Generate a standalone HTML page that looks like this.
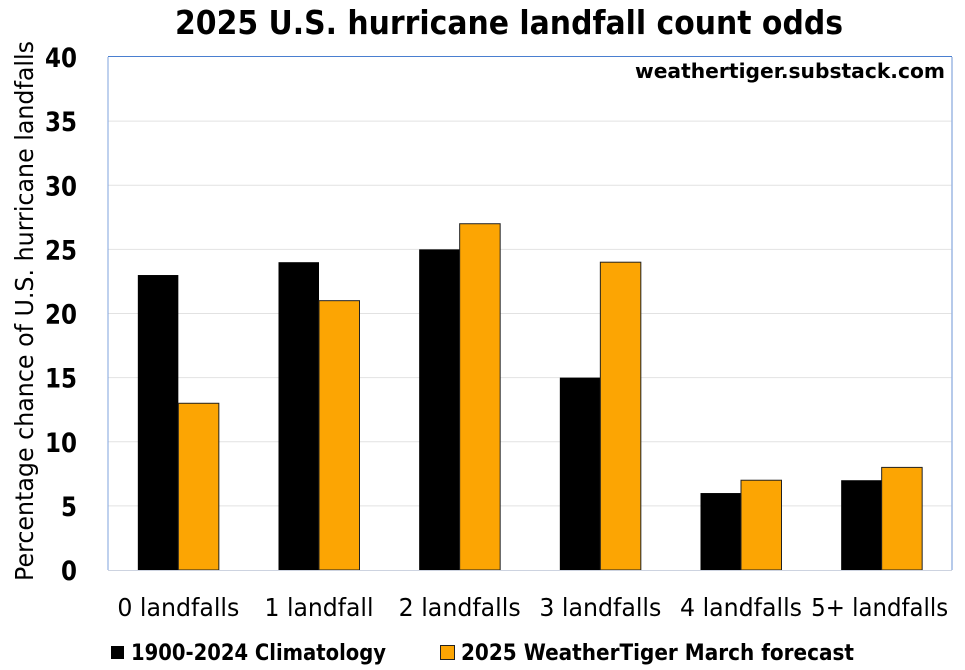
<!DOCTYPE html>
<html lang="en">
<head>
<meta charset="utf-8">
<title>2025 U.S. hurricane landfall count odds</title>
<style>
html,body{margin:0;padding:0;background:#fff;width:965px;height:670px;overflow:hidden}
svg{display:block}
text{font-family:"DejaVu Sans","Liberation Sans",sans-serif;fill:#000}
</style>
</head>
<body>
<svg id="chart" width="965" height="670" viewBox="0 0 965 670" xmlns="http://www.w3.org/2000/svg">
  <text x="509" y="34" text-anchor="middle" font-size="33" font-weight="bold" textLength="668" lengthAdjust="spacingAndGlyphs">2025 U.S. hurricane landfall count odds</text>
  <text transform="translate(33,311) rotate(-90)" text-anchor="middle" font-size="25" textLength="540" lengthAdjust="spacingAndGlyphs">Percentage chance of U.S. hurricane landfalls</text>
  <g id="grid"></g>
  <g id="yticks"></g>
  <g id="bars"></g>
  <g id="xticks"></g>
  <line x1="108" y1="57" x2="108" y2="570" stroke="#7fa3de" stroke-width="1"></line>
  <line x1="952" y1="57" x2="952" y2="570" stroke="#9db8e4" stroke-width="1.5"></line>
  <line x1="108" y1="56.5" x2="952" y2="56.5" stroke="#4a7fd0" stroke-width="1"></line>
  <line x1="108" y1="570.5" x2="952" y2="570.5" stroke="#cdd3e0" stroke-width="1"></line>
  <text x="945" y="78" text-anchor="end" font-size="20" font-weight="bold" textLength="310" lengthAdjust="spacingAndGlyphs">weathertiger.substack.com</text>
  <g>
    <rect x="111" y="646" width="13" height="13" fill="#000"></rect>
    <text x="131" y="660" font-size="22.5" font-weight="bold" textLength="255" lengthAdjust="spacingAndGlyphs">1900-2024 Climatology</text>
    <rect x="440.5" y="645.5" width="14" height="14" fill="#fca503" stroke="#222" stroke-width="1"></rect>
    <text x="461" y="660" font-size="22.5" font-weight="bold" textLength="393" lengthAdjust="spacingAndGlyphs">2025 WeatherTiger March forecast</text>
  </g>
</svg>
<script>
const categories = ["0 landfalls", "1 landfall", "2 landfalls", "3 landfalls", "4 landfalls", "5+ landfalls"];
const climatology = [23, 24, 25, 15, 6, 7];
const forecast = [13, 21, 27, 24, 7, 8];
const yTicks = [0, 5, 10, 15, 20, 25, 30, 35, 40];

const NS = "http://www.w3.org/2000/svg";
const plotLeft = 108, plotRight = 952, plotTop = 57, plotBottom = 570, yMax = 40, barW = 40.5;
function yScale(v) { return plotBottom - (v / yMax) * (plotBottom - plotTop); }
function xCenter(i) { return plotLeft + (i + 0.5) * (plotRight - plotLeft) / categories.length; }
function make(tag, attrs, parent) {
  const el = document.createElementNS(NS, tag);
  for (const k in attrs) el.setAttribute(k, attrs[k]);
  parent.appendChild(el);
  return el;
}
const gGrid = document.getElementById("grid");
const gY = document.getElementById("yticks");
const gBars = document.getElementById("bars");
const gX = document.getElementById("xticks");

yTicks.forEach(function (t) {
  if (t !== 0 && t !== yMax) {
    const ln = make("line", { x1: plotLeft, x2: plotRight, y1: yScale(t), y2: yScale(t), stroke: "#e2e2e2", "stroke-width": 1 }, gGrid);
    
    
  }
  const lab = make("text", { x: 77, y: yScale(t) + 10, "text-anchor": "end", "font-size": 27, "font-weight": "bold" }, gY);
  
  
  lab.setAttribute('textLength', String(t).length * 16);
  lab.setAttribute('lengthAdjust', 'spacingAndGlyphs');
  lab.textContent = t;
});

categories.forEach(function (c, i) {
  const cx = xCenter(i);
  const b1 = make("rect", { x: cx - barW, y: yScale(climatology[i]), width: barW, height: plotBottom - yScale(climatology[i]), fill: "#000" }, gBars);
  
  
  const b2 = make("rect", { x: cx, y: yScale(forecast[i]), width: barW, height: plotBottom - yScale(forecast[i]), fill: "#fca503", stroke: "#222", "stroke-width": 1 }, gBars);
  
  
  const lab = make("text", { x: cx - (i === 5 ? 2 : 0), y: 616, "text-anchor": "middle", "font-size": 25 }, gX);
  
  
  lab.setAttribute('textLength', i === 1 ? 109 : (i === 5 ? 137 : 122));
  lab.setAttribute('lengthAdjust', 'spacingAndGlyphs');
  lab.textContent = c;
});
</script>
</body>
</html>
